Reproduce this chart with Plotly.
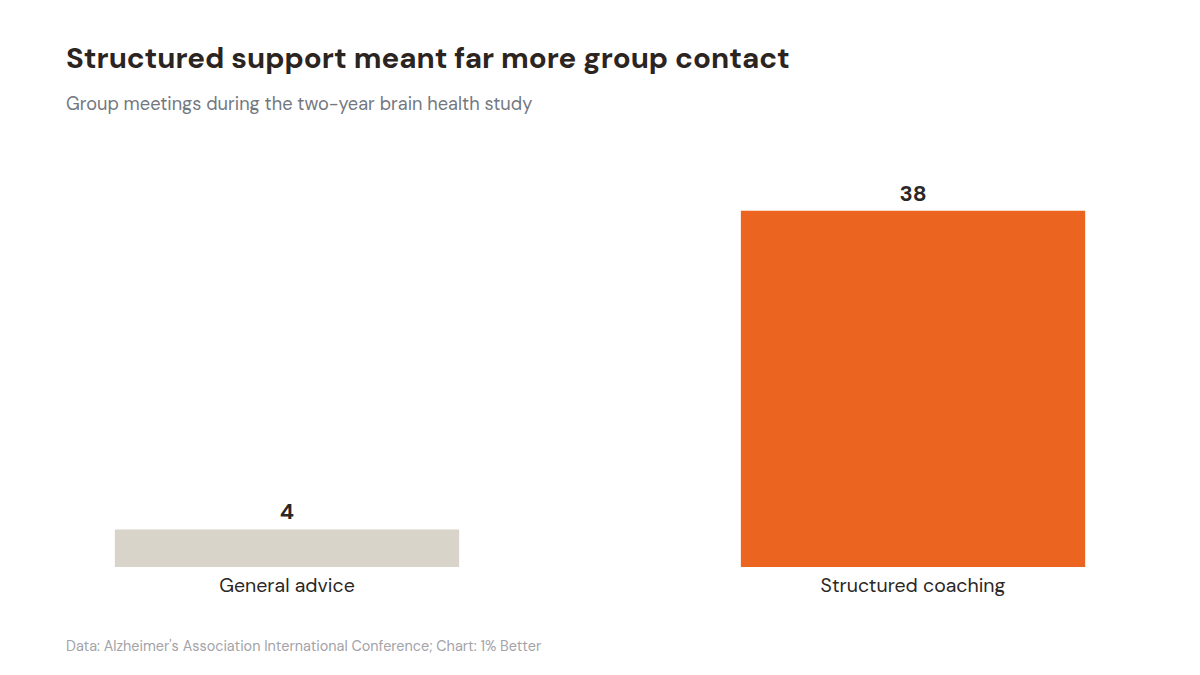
"""Group meetings during the two-year brain health study."""

import plotly.graph_objects as go

categories = ["General advice", "Structured coaching"]
meetings = [4, 38]
bar_colors = ["#d9d4ca", "#eb6420"]

FONT = "DM Sans, Inter, sans-serif"

fig = go.Figure()

fig.add_trace(
    go.Bar(
        x=categories,
        y=meetings,
        width=0.55,
        marker=dict(color=bar_colors, line=dict(width=0)),
        text=[str(v) for v in meetings],
        textposition="outside",
        textfont=dict(family=FONT, size=22, color="#2b2725", weight="bold"),
        cliponaxis=False,
        hoverinfo="skip",
    )
)

fig.update_layout(
    width=1200,
    height=675,
    paper_bgcolor="white",
    plot_bgcolor="white",
    showlegend=False,
    margin=dict(l=58, r=74, t=152, b=116),
    title=dict(
        text="<b>Structured support meant far more group contact</b>",
        font=dict(family=FONT, size=29.5, color="#2b2420"),
        x=58 / 1200,
        xanchor="left",
        y=1 - 50 / 675,
        yanchor="middle",
        xref="container",
        yref="container",
    ),
    xaxis=dict(
        range=[-0.353, 1.353],
        showgrid=False,
        zeroline=False,
        showline=False,
        ticks="",
        ticklabelstandoff=4,
        tickfont=dict(family=FONT, size=19.5, color="#2b2725"),
    ),
    yaxis=dict(
        range=[0, 43.4],
        visible=False,
    ),
)

# Subtitle
fig.add_annotation(
    text="Group meetings during the two-year brain health study",
    xref="paper",
    yref="paper",
    x=0,
    xshift=-2,
    y=(567 - 104) / 407,
    xanchor="left",
    yanchor="middle",
    showarrow=False,
    font=dict(family=FONT, size=18.2, color="#737880"),
)

# Source
fig.add_annotation(
    text="Data: Alzheimer's Association International Conference; Chart: 1% Better",
    xref="paper",
    yref="paper",
    x=0,
    xshift=-2,
    y=(567 - 646) / 407,
    xanchor="left",
    yanchor="middle",
    showarrow=False,
    font=dict(family=FONT, size=14.4, color="#a3a3a8"),
)

fig.write_html("out.html")
